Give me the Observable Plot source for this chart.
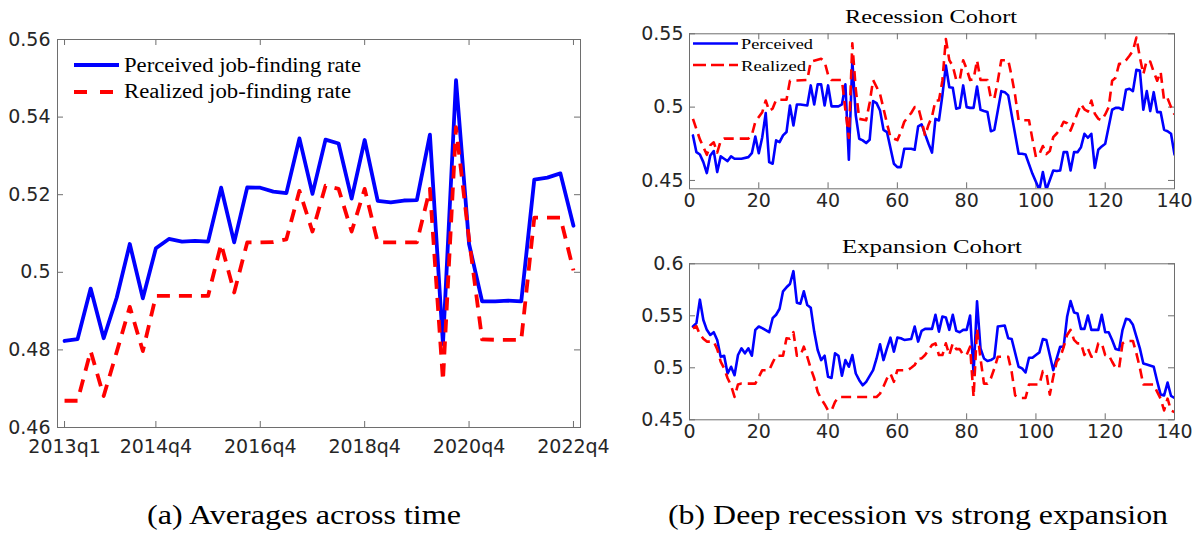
<!DOCTYPE html>
<html><head><meta charset="utf-8">
<script src="https://cdn.jsdelivr.net/npm/d3@7"></script>
<script src="https://cdn.jsdelivr.net/npm/@observablehq/plot@0.6"></script>
<style>
html,body{margin:0;padding:0;background:#fff}
body{width:1204px;height:536px;position:relative;overflow:hidden}
.pn{position:absolute}
#overlay{position:absolute;left:0;top:0;pointer-events:none}
</style></head><body>
<div id="pa" class="pn" style="left:0;top:0"></div>
<div id="pb1" class="pn" style="left:600px;top:0"></div>
<div id="pb2" class="pn" style="left:600px;top:230px"></div>
<svg id="overlay" width="1204" height="536"></svg>
<script>
// ---------- Panel (a): averages across time (quarterly, 2013q1..2022q4) ----------
const quarterLabels = [];
for (let y = 2013; y <= 2022; y++) for (let q = 1; q <= 4; q++) quarterLabels.push(y + "q" + q);
const perceivedAvg = [0.4823,0.4828,0.4958,0.4830,0.4935,0.5073,0.4933,0.5062,0.5086,0.5079,
  0.5081,0.5079,0.5218,0.5077,0.5219,0.5218,0.5208,0.5204,0.5345,0.5202,
  0.5342,0.5332,0.5190,0.5341,0.5184,0.5180,0.5185,0.5186,0.5355,0.4815,
  0.5495,0.5073,0.4925,0.4925,0.4927,0.4925,0.5239,0.5244,0.5255,0.5120];
const realizedAvg = [0.4669,0.4669,0.4797,0.4681,0.4795,0.4911,0.4797,0.4939,0.4939,0.4939,
  0.4939,0.4939,0.5073,0.4948,0.5077,0.5077,0.5078,0.5085,0.5210,0.5105,
  0.5223,0.5215,0.5105,0.5215,0.5077,0.5077,0.5077,0.5077,0.5215,0.4720,
  0.5374,0.5085,0.4827,0.4826,0.4826,0.4826,0.5141,0.5141,0.5141,0.5005];
const xTickLabelsA = ["2013q1","2014q4","2016q4","2018q4","2020q4","2022q4"];
const yTicksA = [0.46,0.48,0.5,0.52,0.54,0.56];

// ---------- Panel (b): cohorts, period index 1..140 ([period, value]) ----------
const xTicksB = [0,20,40,60,80,100,120,140];
const yTicksRec = [0.45,0.5,0.55];
const yTicksExp = [0.45,0.5,0.55,0.6];
const recessionPerceived = [[1,.4807],[2,.4693],[3,.4677],[4,.4625],[5,.455],[6,.467],[7,.470],[8,.4557],[9,.4664],[10,.4648],[11,.4632],[12,.4664],[13,.4648],[15,.4648],[17,.4659],[18,.4686],[19,.480],[20,.4686],[21,.4795],[22,.4959],[23,.4625],[24,.4614],[25,.4773],[26,.4761],[27,.4807],[28,.483],[29,.5011],[30,.4875],[31,.5018],[32,.5018],[34,.5011],[35,.5148],[36,.5018],[37,.5155],[38,.5155],[39,.5011],[40,.5148],[41,.5005],[43,.5005],[44,.5018],[45,.5155],[46,.4641],[47,.5318],[48,.4943],[49,.4784],[50,.4773],[51,.4755],[52,.4777],[53,.5041],[54,.5027],[55,.4977],[56,.4845],[57,.483],[59,.4614],[60,.4591],[61,.4591],[62,.4716],[64,.4716],[65,.4709],[66,.4868],[67,.4882],[69,.475],[70,.469],[71,.492],[72,.4909],[73,.508],[74,.5284],[75,.5136],[76,.5132],[77,.4989],[78,.4995],[79,.5148],[80,.5],[81,.4995],[82,.4995],[83,.5141],[84,.4982],[85,.4973],[86,.4966],[87,.4836],[88,.4845],[89,.4977],[90,.5109],[91,.5102],[92,.508],[95,.4682],[96,.4682],[97,.4677],[99,.4545],[101,.4436],[102,.4557],[103,.4436],[105,.4568],[106,.4564],[107,.4568],[108,.4693],[109,.4693],[110,.4568],[111,.4693],[112,.4693],[113,.4727],[114,.4818],[115,.4791],[116,.4818],[117,.4586],[118,.4709],[119,.4732],[120,.475],[122,.4982],[123,.4995],[124,.4995],[125,.4982],[126,.5118],[127,.5125],[128,.5109],[129,.5255],[130,.525],[131,.4982],[132,.5109],[133,.4973],[134,.5102],[135,.4966],[136,.4966],[137,.4845],[138,.4836],[139,.4818],[140,.4677]];
const recessionRealized = [[1,.492],[3,.478],[5,.4675],[6,.474],[7,.476],[8,.469],[9,.477],[10,.4785],[17,.4785],[18,.481],[19,.49],[21,.4965],[22,.5045],[23,.4975],[24,.499],[25,.505],[28,.505],[29,.518],[34,.5185],[35,.531],[38,.533],[39,.531],[40,.522],[41,.5185],[44,.5185],[45,.498],[46,.479],[47,.5435],[48,.512],[49,.492],[51,.491],[52,.503],[53,.5185],[55,.509],[57,.489],[58,.4795],[60,.4775],[61,.483],[62,.49],[64,.496],[65,.5],[66,.5],[67,.491],[68,.4805],[69,.488],[70,.4935],[71,.5045],[72,.5045],[73,.518],[74,.5465],[75,.532],[76,.528],[77,.5185],[78,.5185],[79,.532],[80,.526],[81,.5185],[82,.519],[83,.532],[84,.5185],[86,.5185],[87,.506],[88,.506],[89,.518],[90,.532],[92,.532],[93,.521],[94,.508],[95,.491],[98,.491],[99,.478],[100,.466],[101,.468],[102,.4735],[103,.468],[104,.47],[105,.4795],[106,.482],[107,.485],[108,.49],[109,.489],[110,.484],[111,.49],[112,.496],[113,.502],[114,.4985],[115,.497],[116,.5045],[117,.4955],[118,.492],[119,.491],[120,.495],[121,.5],[122,.518],[123,.52],[124,.5295],[125,.5295],[126,.532],[127,.535],[128,.5385],[129,.5475],[130,.534],[131,.5225],[132,.532],[133,.531],[134,.524],[135,.518],[136,.524],[137,.5045],[138,.506],[139,.5],[140,.495]];
const expansionPerceived = [[1,.5397],[2,.5429],[3,.5655],[4,.546],[5,.5365],[6,.5316],[7,.5342],[8,.5268],[9,.5106],[10,.5116],[11,.4945],[12,.501],[13,.4929],[14,.5123],[15,.5187],[16,.5139],[17,.5187],[18,.5116],[19,.5365],[20,.5397],[21,.5381],[23,.5342],[24,.5477],[25,.551],[26,.5568],[27,.5735],[28,.5774],[29,.5806],[30,.5929],[31,.5626],[32,.5616],[33,.5735],[34,.5603],[35,.5577],[36,.5348],[37,.5171],[38,.5074],[39,.5116],[40,.4913],[41,.4903],[42,.5139],[43,.5116],[44,.4923],[45,.5074],[46,.501],[47,.5123],[48,.4945],[49,.4881],[50,.4832],[51,.4865],[53,.4977],[54,.509],[55,.5226],[56,.5074],[57,.5187],[58,.529],[59,.5155],[60,.529],[61,.5284],[62,.5268],[64,.5277],[65,.5397],[66,.5252],[67,.5355],[68,.5374],[70,.5374],[71,.551],[72,.5348],[73,.5493],[74,.5484],[75,.5365],[76,.551],[77,.5355],[78,.5342],[79,.5365],[80,.5365],[81,.5503],[82,.4945],[83,.5639],[84,.5187],[85,.509],[86,.5065],[87,.5074],[88,.5097],[89,.5397],[91,.5406],[92,.5284],[93,.5277],[95,.501],[96,.4994],[97,.4955],[98,.5097],[99,.5097],[100,.5123],[101,.5148],[102,.5277],[103,.5268],[104,.5123],[105,.4977],[106,.509],[107,.5203],[108,.5203],[109,.549],[110,.5642],[111,.5532],[112,.5523],[113,.5374],[114,.5374],[115,.5503],[116,.5365],[118,.5365],[119,.551],[120,.5342],[121,.5342],[122,.5268],[123,.5181],[124,.5171],[125,.5365],[126,.5471],[127,.5461],[128,.5413],[130,.5187],[131,.5042],[132,.5032],[134,.501],[135,.4871],[136,.4742],[137,.4735],[138,.4858],[139,.4729],[140,.471]];
const expansionRealized = [[1,.538],[2,.54],[3,.532],[4,.528],[5,.5252],[7,.5252],[8,.518],[9,.506],[10,.4994],[11,.49],[12,.483],[13,.472],[14,.484],[15,.4848],[19,.4848],[20,.491],[21,.4977],[23,.4977],[24,.505],[25,.5116],[27,.5116],[28,.5284],[29,.528],[30,.5342],[31,.5116],[32,.5116],[33,.5203],[34,.5106],[35,.4994],[36,.49],[37,.4768],[38,.4703],[39,.465],[40,.459],[41,.459],[42,.4671],[43,.4719],[54,.4719],[55,.4752],[56,.482],[57,.4897],[58,.4945],[59,.4865],[60,.4977],[63,.4977],[64,.5],[65,.5026],[66,.509],[67,.509],[68,.5123],[70,.5219],[71,.5235],[72,.5123],[73,.5123],[74,.5235],[75,.5123],[76,.5235],[77,.518],[78,.518],[79,.5123],[80,.5123],[81,.5203],[82,.4719],[83,.5374],[84,.509],[85,.4848],[86,.4848],[87,.49],[88,.4994],[89,.5106],[92,.5106],[93,.4961],[94,.4735],[95,.471],[97,.471],[98,.4839],[101,.4839],[102,.4968],[103,.4955],[104,.4742],[105,.4913],[106,.5058],[107,.51],[108,.52],[109,.5316],[110,.5365],[111,.5268],[112,.5235],[113,.5235],[114,.5123],[115,.5187],[116,.5106],[117,.5106],[118,.5235],[119,.5235],[120,.5123],[121,.5123],[122,.5058],[123,.5],[124,.4994],[125,.5235],[126,.5258],[128,.5258],[129,.5139],[130,.5],[131,.4839],[132,.4839],[134,.4839],[135,.4768],[136,.4703],[137,.459],[138,.4703],[139,.459],[140,.4574]];

const BLUE = "#0000ff", RED = "#ff0000", AXC = "#6e6e6e", TXT = "#262626";

function panel(opt) {
  const {W, H, mL, mR, mT, mB, xDomain, yDomain, xTicks, yTicks, xFmt, series, lw, dash, xPad, yPad} = opt;
  const iW = W - mL - mR, iH = H - mT - mB, tl = 6;
  const marks = [
    Plot.tickY(yTicks, {y: d => d, stroke: AXC, insetRight: iW - tl}),
    Plot.tickY(yTicks, {y: d => d, stroke: AXC, insetLeft: iW - tl}),
    Plot.tickX(xTicks, {x: d => d, stroke: AXC, insetTop: iH - tl}),
    Plot.tickX(xTicks, {x: d => d, stroke: AXC, insetBottom: iH - tl}),
    Plot.axisY(yTicks, {tickSize: 0, tickPadding: yPad, label: null, tickFormat: d => String(d), fill: TXT}),
    Plot.axisX(xTicks, {tickSize: 0, tickPadding: xPad, label: null, tickFormat: xFmt, fill: TXT}),
    Plot.line(series.perceived, {x: "t", y: "v", stroke: BLUE, strokeWidth: lw, clip: true, strokeLinejoin: "round"}),
    Plot.line(series.realized, {x: "t", y: "v", stroke: RED, strokeWidth: lw, clip: true, strokeDasharray: dash, strokeLinecap: "butt", strokeLinejoin: "round"}),
    Plot.frame({stroke: AXC, strokeWidth: 1})
  ];
  return Plot.plot({
    width: W, height: H, marginLeft: mL, marginRight: mR, marginTop: mT, marginBottom: mB,
    x: {domain: xDomain}, y: {domain: yDomain},
    style: {fontFamily: "'DejaVu Sans', sans-serif", fontSize: "19px", color: TXT, background: "transparent", overflow: "visible"},
    marks
  });
}

const rows = pairs => pairs.map(([t, v]) => ({t, v}));

document.getElementById("pa").append(panel({
  W: 600, H: 460, mL: 57, mR: 20, mT: 39, mB: 33,
  xDomain: [-0.54, quarterLabels.length - 1 + 0.54], yDomain: [0.46, 0.56],
  xTicks: xTickLabelsA.map(q => quarterLabels.indexOf(q)), yTicks: yTicksA,
  xFmt: d => quarterLabels[d],
  series: {
    perceived: perceivedAvg.map((v, t) => ({t, v})),
    realized: realizedAvg.map((v, t) => ({t, v}))
  },
  lw: 3.8, dash: "13,9", xPad: 12, yPad: 7
}));

document.getElementById("pb1").append(panel({
  W: 604, H: 215, mL: 89, mR: 30, mT: 33.3, mB: 26.7,
  xDomain: [0, 140], yDomain: [0.4443, 0.55],
  xTicks: xTicksB, yTicks: yTicksRec, xFmt: d => String(d),
  series: {perceived: rows(recessionPerceived), realized: rows(recessionRealized)},
  lw: 2.6, dash: "10,6", xPad: 5, yPad: 6
}));

document.getElementById("pb2").append(panel({
  W: 604, H: 215, mL: 89, mR: 30, mT: 33.3, mB: 25.7,
  xDomain: [0, 140], yDomain: [0.45, 0.6],
  xTicks: xTicksB, yTicks: yTicksExp, xFmt: d => String(d),
  series: {perceived: rows(expansionPerceived), realized: rows(expansionRealized)},
  lw: 2.6, dash: "10,6", xPad: 5, yPad: 6
}));

// ---------- legends, titles, captions ----------
const legendA = ["Perceived job-finding rate", "Realized job-finding rate"];
const legendB = ["Perceived", "Realized"];
const titlesB = ["Recession Cohort", "Expansion Cohort"];
const captions = ["(a) Averages across time", "(b) Deep recession vs strong expansion"];

const ov = d3.select("#overlay");
const serif = "'Liberation Serif', 'Times New Roman', serif";
function stext(x, y, str, size, len, anchor) {
  const t = ov.append("text").attr("x", x).attr("y", y).attr("font-family", serif)
    .attr("font-size", size).attr("fill", "#000").attr("text-anchor", anchor || "start").text(str);
  if (len) t.attr("textLength", len).attr("lengthAdjust", "spacingAndGlyphs");
  return t;
}
// legend (a)
ov.append("line").attr("x1", 74).attr("x2", 119).attr("y1", 65).attr("y2", 65).attr("stroke", BLUE).attr("stroke-width", 3.8);
ov.append("line").attr("x1", 74).attr("x2", 119).attr("y1", 92).attr("y2", 92).attr("stroke", RED).attr("stroke-width", 3.8).attr("stroke-dasharray", "13,13");
stext(124, 71.5, legendA[0], 20, 237);
stext(124, 98, legendA[1], 20, 227);
// legend (b)
ov.append("line").attr("x1", 693).attr("x2", 738).attr("y1", 43.5).attr("y2", 43.5).attr("stroke", BLUE).attr("stroke-width", 2.6);
ov.append("line").attr("x1", 693).attr("x2", 738).attr("y1", 65).attr("y2", 65).attr("stroke", RED).attr("stroke-width", 2.6).attr("stroke-dasharray", "13,5");
stext(741, 49, legendB[0], 15.5, 72);
stext(741, 70.5, legendB[1], 15.5, 65);
// titles
stext(845, 22.5, titlesB[0], 19.5, 172);
stext(842, 253, titlesB[1], 19.5, 180);
// captions
stext(147, 524, captions[0], 26.5, 314);
stext(668, 524, captions[1], 26.5, 500);
</script>
</body></html>
